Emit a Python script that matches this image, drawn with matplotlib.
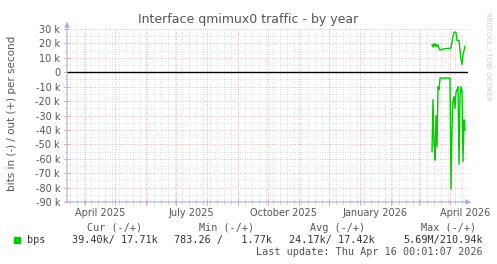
import matplotlib
matplotlib.use("Agg")
import matplotlib.pyplot as plt
import matplotlib.dates as mdates
import matplotlib.transforms as mtrans
import numpy as np
import pandas as pd

# ---- data ----
start_day = "2026-03-14"
out_k = [19, 17.5, 20, 18, 19.5, 18, 19, 16.5, 15.3, 15.5, 16, 16, 16.2, 16.3, 16.5, 16.5,
         16.5, 16.6, 16.6, 17, 21, 25, 27.5, 28, 27.5, 22, 22, 22, 15, 9, 5.5, 12, 15, 18]
in_k = [55, 19, 50, 61, 30, 52, 10, 12, 4, 4, 4.2, 4, 4.5, 4, 3.8, 4, 4, 4.3, 4, 81,
        38, 20, 17, 25, 14, 12, 10, 64, 17, 10, 13, 62, 33, 40]
yticks_k = [30, 20, 10, 0, -10, -20, -30, -40, -50, -60, -70, -80, -90]
xlabels = ["April 2025", "July 2025", "October 2025", "January 2026", "April 2026"]
xlabel_dates = ["2025-04-16", "2025-07-16", "2025-10-16", "2026-01-16", "2026-04-16"]
legend_headers = ["Cur (-/+)", "Min (-/+)", "Avg (-/+)", "Max (-/+)"]
legend_values = ["39.40k/ 17.71k", "783.26 /   1.77k", "24.17k/ 17.42k", "5.69M/210.94k"]
series_name = "bps"
last_update = "Last update: Thu Apr 16 00:01:07 2026"
title = "Interface qmimux0 traffic - by year"

W, H = 497, 264
fig = plt.figure(figsize=(W / 100, H / 100), dpi=100)
fig.patch.set_facecolor("white")

L, R, T, B = 67, 468, 29, 202
ax = fig.add_axes([L / W, 1 - B / H, (R - L) / W, (B - T) / H])
ax.set_facecolor("white")

dates = pd.date_range(start_day, periods=len(out_k), freq="D")
out_v = np.array(out_k) * 1000
in_v = -np.array(in_k) * 1000

x0 = pd.Timestamp("2026-04-01") + pd.Timedelta(days=(L - 450))
x1 = pd.Timestamp("2026-04-01") + pd.Timedelta(days=(R - 450))
ax.set_xlim(x0, x1)
ax.set_ylim(-90000, 30000)

grey = "#d0d0d0"
red = "#e8a0a0"
xt = ax.get_xaxis_transform()
yt = ax.get_yaxis_transform()
px = 1.0 / (R - L)
py = 1.0 / (B - T)

minor_y = [v for v in np.arange(-85000, 30001, 5000) if v % 10000 != 0]
for v in minor_y:
    ax.axhline(v, color=grey, lw=0.6, ls=(0, (1, 2)), zorder=1)
    ax.plot([-2 * px, 0], [v, v], transform=yt, color=grey, lw=0.6, clip_on=False)
for v in yticks_k:
    ax.axhline(v * 1000, color=red, lw=0.6, ls=(0, (1, 2)), zorder=1)
    ax.plot([-3 * px, 2 * px], [v * 1000, v * 1000], transform=yt, color=red, lw=0.6,
            clip_on=False)
wk = pd.date_range(x0, x1, freq="W-MON")
for d in wk:
    ax.axvline(d, color=grey, lw=0.6, ls=(0, (1, 2)), zorder=1)
    ax.plot([d, d], [-2 * py, 2 * py], transform=xt, color=grey, lw=0.6, clip_on=False)
mo = pd.date_range(x0, x1, freq="MS")
for d in mo:
    ax.axvline(d, color=red, lw=0.6, ls=(0, (1, 2)), zorder=1)
    ax.plot([d, d], [-3 * py, 3 * py], transform=xt, color=red, lw=0.6, clip_on=False)

ax.axhline(0, color="black", lw=1.0, zorder=2)

ax.plot(dates, out_v, color="#00cc00", lw=1.0, zorder=3)
ax.plot(dates, in_v, color="#00cc00", lw=1.0, zorder=3)

for s in ax.spines.values():
    s.set_visible(False)

ax.set_yticks([v * 1000 for v in yticks_k])
ax.set_yticklabels([("%d k" % v) if v != 0 else "0" for v in yticks_k])
ax.tick_params(axis="y", length=0, pad=5, labelsize=7, labelcolor="#555555")
ax.set_xticks([pd.Timestamp(d) for d in xlabel_dates])
ax.set_xticklabels(xlabels)
ax.tick_params(axis="x", length=0, pad=4, labelsize=7, labelcolor="#555555")

axis_col = "#aab0dd"
fig.add_artist(matplotlib.patches.FancyArrowPatch(
    ((L - 4) / W, 1 - B / H), ((R + 6) / W, 1 - B / H), transform=fig.transFigure,
    arrowstyle="-|>,head_length=3,head_width=1.5", color=axis_col, lw=0.8))
fig.add_artist(matplotlib.patches.FancyArrowPatch(
    (L / W, 1 - (B + 3) / H), (L / W, 1 - 19 / H), transform=fig.transFigure,
    arrowstyle="-|>,head_length=3,head_width=1.5", color=axis_col, lw=0.8))

fig.text(248 / W, 1 - 19 / H, title, ha="center", va="center", fontsize=9, color="#555555")
fig.text(12 / W, 1 - 113 / H, "bits in (-) / out (+) per second", rotation=90,
         ha="center", va="center", fontsize=7.5, color="#555555")
fig.text(488 / W, 1 - 56 / H, "RRDTOOL / TOBI OETIKER", rotation=270,
         ha="center", va="center", fontsize=5, color="#cccccc")

mono = "DejaVu Sans Mono"
hx = [115, 227, 338, 449]
for x, t in zip(hx, legend_headers):
    fig.text(x / W, 1 - 228 / H, t, ha="center", va="center", family=mono,
             fontsize=7.3, color="#555555")
vx = [72, 174, 289, 403]
for x, t in zip(vx, legend_values):
    fig.text(x / W, 1 - 240 / H, t, ha="left", va="center", family=mono,
             fontsize=7.3, color="#333333")
fig.add_artist(matplotlib.patches.Rectangle((14 / W, 1 - 243 / H), 6 / W, 6 / H,
                                            transform=fig.transFigure, color="#00cc00"))
fig.text(27 / W, 1 - 240 / H, series_name, ha="left", va="center", family=mono,
         fontsize=7.3, color="#333333")
fig.text(483 / W, 1 - 252 / H, last_update, ha="right", va="center", family=mono,
         fontsize=7.3, color="#555555")

fig.savefig("out.png", dpi=100, facecolor="white")
